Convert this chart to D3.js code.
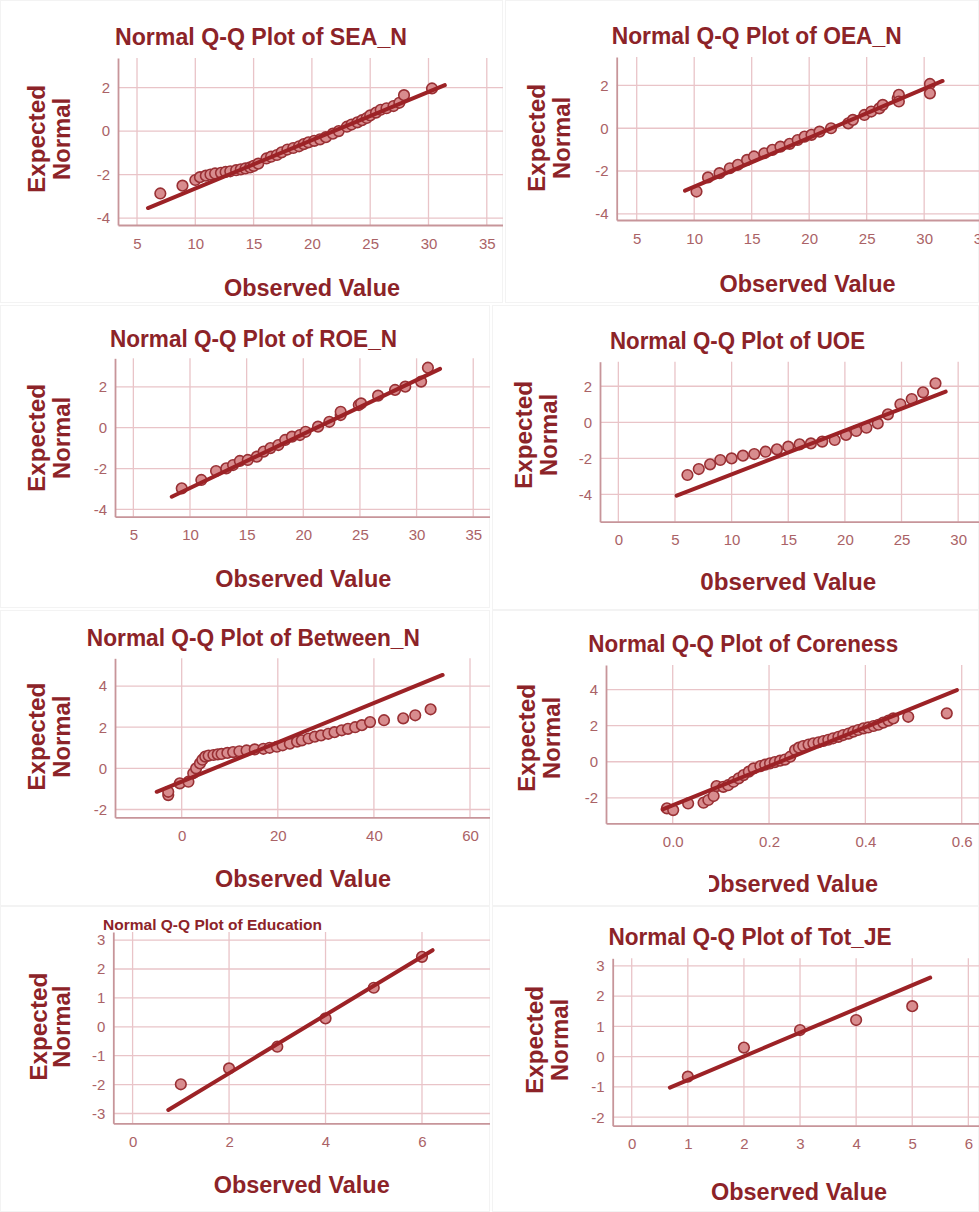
<!DOCTYPE html>
<html>
<head>
<meta charset="utf-8">
<script src="https://cdn.jsdelivr.net/npm/d3@7"></script>
<style>
  body { margin: 0; background: #fff; }
  svg text { font-family: "Liberation Sans", Arial, sans-serif; }
</style>
</head>
<body>
<div id="chart"></div>
<script>
var seaObs = [7.0, 8.9, 10.0, 10.4, 10.9, 11.3, 11.7, 12.2, 12.6, 13.0, 13.5, 13.9, 14.3, 14.7, 15.0, 15.4, 16.1, 16.5, 17.0, 17.4, 17.9, 18.4, 18.9, 19.3, 19.7, 20.2, 20.7, 21.2, 21.8, 22.3, 23.0, 23.4, 23.9, 24.3, 24.7, 25.0, 25.5, 25.9, 26.4, 27.0, 27.5, 27.9, 30.3];
var seaExp = [-2.87, -2.51, -2.25, -2.12, -2.05, -2.0, -1.95, -1.92, -1.88, -1.85, -1.8, -1.76, -1.72, -1.67, -1.6, -1.5, -1.26, -1.18, -1.1, -0.98, -0.85, -0.78, -0.7, -0.6, -0.52, -0.45, -0.38, -0.28, -0.12, 0.0, 0.2, 0.3, 0.4, 0.5, 0.6, 0.72, 0.85, 0.98, 1.05, 1.15, 1.3, 1.65, 1.96];
var seaLineX = [5.94, 31.4], seaLineY = [-3.54, 2.11];

var oeaObs = [10.2, 11.2, 12.2, 13.1, 13.8, 14.6, 15.2, 16.1, 16.8, 17.5, 18.3, 19.0, 19.6, 20.2, 20.9, 21.9, 23.4, 23.8, 24.8, 25.4, 26.1, 26.4, 27.7, 27.8, 27.8, 30.5, 30.5];
var oeaExp = [-2.96, -2.3, -2.1, -1.87, -1.71, -1.48, -1.32, -1.17, -1.01, -0.86, -0.73, -0.55, -0.39, -0.31, -0.16, 0.0, 0.23, 0.39, 0.62, 0.78, 0.93, 1.09, 1.4, 1.56, 1.25, 2.07, 1.63];
var oeaLineX = [9.2, 31.6], oeaLineY = [-2.92, 2.21];

var roeObs = [9.27, 11.0, 12.3, 13.2, 13.8, 14.4, 15.1, 15.9, 16.5, 17.1, 17.8, 18.4, 19.0, 19.7, 20.2, 21.3, 22.3, 23.3, 23.3, 24.9, 25.1, 26.6, 28.1, 29.0, 30.4, 31.0];
var roeExp = [-2.97, -2.56, -2.12, -1.99, -1.83, -1.63, -1.58, -1.42, -1.17, -1.0, -0.85, -0.6, -0.44, -0.36, -0.2, 0.05, 0.29, 0.62, 0.78, 1.11, 1.19, 1.57, 1.85, 2.01, 2.26, 2.94];
var roeLineX = [8.39, 32.07], roeLineY = [-3.38, 2.88];

var uoeObs = [6.1, 7.1, 8.1, 9.0, 10.0, 11.0, 12.0, 13.0, 14.0, 15.0, 16.0, 17.0, 18.0, 19.1, 20.1, 21.0, 21.9, 22.9, 23.8, 24.9, 25.9, 26.9, 28.0];
var uoeExp = [-2.92, -2.59, -2.33, -2.09, -2.0, -1.85, -1.76, -1.63, -1.5, -1.35, -1.22, -1.17, -1.07, -0.98, -0.7, -0.48, -0.3, -0.06, 0.44, 1.0, 1.29, 1.66, 2.16];
var uoeLineX = [5.15, 28.9], uoeLineY = [-4.07, 1.7];

var betObs = [-2.8, -2.8, -0.4, 1.4, 2.4, 3.0, 3.8, 4.3, 4.9, 5.6, 6.6, 7.5, 8.3, 9.5, 10.7, 12.0, 13.5, 15.2, 17.0, 18.3, 19.8, 21.0, 22.5, 24.0, 25.0, 26.4, 27.7, 29.0, 30.5, 31.8, 33.3, 34.6, 36.1, 37.5, 39.2, 42.1, 46.1, 48.6, 51.8];
var betExp = [-1.3, -1.14, -0.73, -0.65, -0.24, 0.0, 0.24, 0.42, 0.57, 0.62, 0.65, 0.68, 0.7, 0.75, 0.79, 0.83, 0.87, 0.92, 0.95, 1.0, 1.05, 1.12, 1.2, 1.3, 1.36, 1.45, 1.54, 1.6, 1.68, 1.76, 1.85, 1.92, 2.0, 2.1, 2.25, 2.34, 2.43, 2.58, 2.87];
var betLineX = [-5.2, 54.3], betLineY = [-1.14, 4.54];

var corObs = [-0.012, 0.001, 0.032, 0.064, 0.074, 0.085, 0.091, 0.105, 0.115, 0.126, 0.137, 0.147, 0.158, 0.168, 0.182, 0.192, 0.202, 0.212, 0.223, 0.233, 0.244, 0.254, 0.262, 0.271, 0.282, 0.292, 0.303, 0.313, 0.323, 0.333, 0.344, 0.354, 0.365, 0.375, 0.385, 0.396, 0.406, 0.417, 0.427, 0.437, 0.448, 0.458, 0.489, 0.569];
var corExp = [-2.58, -2.68, -2.31, -2.27, -2.12, -1.9, -1.35, -1.39, -1.3, -1.11, -0.92, -0.74, -0.55, -0.37, -0.24, -0.16, -0.09, -0.02, 0.06, 0.12, 0.28, 0.65, 0.78, 0.87, 0.95, 1.02, 1.08, 1.15, 1.22, 1.3, 1.38, 1.48, 1.56, 1.67, 1.76, 1.85, 1.9, 1.98, 2.05, 2.17, 2.28, 2.4, 2.49, 2.68];
var corLineX = [-0.021, 0.59], corLineY = [-2.64, 3.97];

var eduObs = [1, 2, 3, 4, 5, 6];
var eduExp = [-1.99, -1.44, -0.69, 0.29, 1.35, 2.42];
var eduLineX = [0.74, 6.22], eduLineY = [-2.88, 2.65];

var jeObs = [1, 2, 3, 4, 5];
var jeExp = [-0.66, 0.3, 0.88, 1.21, 1.67];
var jeLineX = [0.68, 5.32], jeLineY = [-1.02, 2.61];

// tick labels
var xTicks5to35 = [5, 10, 15, 20, 25, 30, 35];
var xTicks0to30 = [0, 5, 10, 15, 20, 25, 30];
var xTicksBet = [0, 20, 40, 60];
var xTicksCor = [0.0, 0.2, 0.4, 0.6];
var xTicksEdu = [0, 2, 4, 6];
var xTicksJe = [0, 1, 2, 3, 4, 5, 6];
var yTicksA = [-4, -2, 0, 2];
var yTicksB = [-2, 0, 2, 4];
var yTicksEdu = [-3, -2, -1, 0, 1, 2, 3];
var yTicksJe = [-2, -1, 0, 1, 2, 3];

var panels = [
  {title: "Normal Q-Q Plot of SEA_N", xlab: "Observed Value", obs: seaObs, exp: seaExp, lx: seaLineX, ly: seaLineY, xt: xTicks5to35, yt: yTicksA},
  {title: "Normal Q-Q Plot of OEA_N", xlab: "Observed Value", obs: oeaObs, exp: oeaExp, lx: oeaLineX, ly: oeaLineY, xt: xTicks5to35, yt: yTicksA},
  {title: "Normal Q-Q Plot of ROE_N", xlab: "Observed Value", obs: roeObs, exp: roeExp, lx: roeLineX, ly: roeLineY, xt: xTicks5to35, yt: yTicksA},
  {title: "Normal Q-Q Plot of UOE", xlab: "0bserved Value", obs: uoeObs, exp: uoeExp, lx: uoeLineX, ly: uoeLineY, xt: xTicks0to30, yt: yTicksA},
  {title: "Normal Q-Q Plot of Between_N", xlab: "Observed Value", obs: betObs, exp: betExp, lx: betLineX, ly: betLineY, xt: xTicksBet, yt: yTicksB},
  {title: "Normal Q-Q Plot of Coreness", xlab: "Observed Value", obs: corObs, exp: corExp, lx: corLineX, ly: corLineY, xt: xTicksCor, yt: yTicksB, xfmt: d3.format(".1f")},
  {title: "Normal Q-Q Plot of Education", xlab: "Observed Value", obs: eduObs, exp: eduExp, lx: eduLineX, ly: eduLineY, xt: xTicksEdu, yt: yTicksEdu},
  {title: "Normal Q-Q Plot of Tot_JE", xlab: "Observed Value", obs: jeObs, exp: jeExp, lx: jeLineX, ly: jeLineY, xt: xTicksJe, yt: yTicksJe}
];

// layout of each pasted-in panel (pixels) and the value range it shows
var layouts = [
  {box: [0, 0, 503, 303], left: 118, right: 503, top: 58, bottom: 225, xd: [3.37, 36.39], yd: [-4.32, 3.36], tx: 261, ty: 45, tw: 292, ts: 23, yl: [45, 70], ylc: 139, xlx: 312, xly: 296},
  {box: [505, 0, 979, 303], left: 616.7, right: 995, top: 57, bottom: 220, xd: [3.26, 36.16], yd: [-4.29, 3.33], tx: 756.7, ty: 44.3, tw: 290, ts: 23, yl: [545, 570], ylc: 138, xlx: 807.5, xly: 291.7},
  {box: [0, 305, 490, 608], left: 115, right: 490, top: 358.3, bottom: 516.7, xd: [3.38, 36.48], yd: [-4.36, 3.40], tx: 253.5, ty: 347.3, tw: 287, ts: 23, yl: [45, 70], ylc: 438, xlx: 303.3, xly: 586.7},
  {box: [492, 305, 979, 610], left: 600, right: 979, top: 361.7, bottom: 521.7, xd: [-1.62, 31.84], yd: [-5.51, 3.36], tx: 737.5, ty: 349.3, tw: 255, ts: 23, yl: [532, 557], ylc: 435, xlx: 788.3, xly: 590},
  {box: [0, 610, 490, 906], left: 115, right: 490, top: 658.3, bottom: 817.3, xd: [-13.88, 64.16], yd: [-2.38, 5.35], tx: 253.3, ty: 646, tw: 333, ts: 23, yl: [45, 70], ylc: 736.7, xlx: 303, xly: 886.7},
  {box: [492, 610, 979, 906], left: 606, right: 979, top: 665, bottom: 823.3, xd: [-0.1385, 0.6359], yd: [-3.41, 5.36], tx: 743.3, ty: 652.3, tw: 310, ts: 23, yl: [535, 560], ylc: 738, xlx: 790, xly: 891.7, clipO: true},
  {box: [0, 906, 490, 1212], left: 113.3, right: 490, top: 932, bottom: 1123.3, xd: [-0.40, 7.41], yd: [-3.34, 3.28], tx: 212.5, ty: 930, tw: 219, ts: 15.5, yl: [47, 70], ylc: 1026.7, xlx: 301.7, xly: 1193.3},
  {box: [492, 906, 979, 1212], left: 612.7, right: 979, top: 958.3, bottom: 1125.7, xd: [-0.339, 6.19], yd: [-2.28, 3.25], tx: 750, ty: 945, tw: 283, ts: 23, yl: [543, 568], ylc: 1040, xlx: 799, xly: 1200}
];

var titleColor = "#8c2328";
var tickColor = "#aa6266";
var gridColor = "#e9c4c8";
var axisColor = "#c7959a";
var lineColor = "#9c2226";
var pointFill = "#d88c8e";
var pointStroke = "#993034";

var svg = d3.select("#chart")
  .append("svg")
  .attr("width", 979)
  .attr("height", 1212);

svg.append("rect").attr("width", 979).attr("height", 1212).attr("fill", "#fff");

panels.forEach(function(p, i) {
  var L = layouts[i];

  svg.append("clipPath").attr("id", "clip" + i)
    .append("rect")
    .attr("x", L.box[0]).attr("y", L.box[1])
    .attr("width", L.box[2] - L.box[0]).attr("height", L.box[3] - L.box[1]);

  // faint frame of the pasted screenshot
  svg.append("rect")
    .attr("x", L.box[0] + 0.5).attr("y", L.box[1] + 0.5)
    .attr("width", L.box[2] - L.box[0] - 1).attr("height", L.box[3] - L.box[1] - 1)
    .attr("fill", "none").attr("stroke", "#f3f3f3");

  var g = svg.append("g").attr("clip-path", "url(#clip" + i + ")");

  var x = d3.scaleLinear().domain(L.xd).range([L.left, L.right]);
  var y = d3.scaleLinear().domain(L.yd).range([L.bottom, L.top]);
  var plain = function(d) { return String(d); };

  // grid
  g.selectAll(".vgrid").data(p.xt).enter().append("line")
    .attr("x1", d => x(d)).attr("x2", d => x(d))
    .attr("y1", L.top).attr("y2", L.bottom)
    .attr("stroke", gridColor).attr("stroke-width", 1.3);

  g.selectAll(".hgrid").data(p.yt).enter().append("line")
    .attr("x1", L.left).attr("x2", L.right)
    .attr("y1", d => y(d)).attr("y2", d => y(d))
    .attr("stroke", gridColor).attr("stroke-width", 1.3);

  // axes
  var xAxis = g.append("g")
    .attr("transform", `translate(0, ${L.bottom})`)
    .call(d3.axisBottom(x).tickValues(p.xt).tickSize(0).tickPadding(13).tickFormat(p.xfmt || plain));
  var yAxis = g.append("g")
    .attr("transform", `translate(${L.left}, 0)`)
    .call(d3.axisLeft(y).tickValues(p.yt).tickSize(0).tickPadding(8).tickFormat(plain));

  [xAxis, yAxis].forEach(function(ax) {
    ax.select(".domain").attr("stroke", axisColor).attr("stroke-width", 1.8);
    ax.selectAll("text")
      .attr("fill", tickColor)
      .style("font-size", "15px");
  });

  // points then reference line
  var pts = p.obs.map(function(d, k) { return {x: d, y: p.exp[k]}; });
  g.selectAll(".pt").data(pts).enter().append("circle")
    .attr("cx", d => x(d.x))
    .attr("cy", d => y(d.y))
    .attr("r", 5.3)
    .attr("fill", pointFill)
    .attr("stroke", pointStroke)
    .attr("stroke-width", 1.6);

  g.append("line")
    .attr("x1", x(p.lx[0])).attr("y1", y(p.ly[0]))
    .attr("x2", x(p.lx[1])).attr("y2", y(p.ly[1]))
    .attr("stroke", lineColor)
    .attr("stroke-width", 4)
    .attr("stroke-linecap", "round");

  // titles and labels
  g.append("text")
    .attr("x", L.tx).attr("y", L.ty)
    .attr("text-anchor", "middle")
    .attr("textLength", L.tw).attr("lengthAdjust", "spacingAndGlyphs")
    .style("font-size", L.ts + "px").style("font-weight", "bold")
    .attr("fill", titleColor)
    .text(p.title);

  g.append("text")
    .attr("x", L.xlx).attr("y", L.xly)
    .attr("text-anchor", "middle")
    .attr("textLength", 176).attr("lengthAdjust", "spacingAndGlyphs")
    .style("font-size", "23px").style("font-weight", "bold")
    .attr("fill", titleColor)
    .text(p.xlab);

  if (L.clipO) {
    g.append("rect")
      .attr("x", L.xlx - 92).attr("y", L.xly - 22)
      .attr("width", 11).attr("height", 28)
      .attr("fill", "#fff");
  }

  [["Expected", 108], ["Normal", 82]].forEach(function(w, k) {
    g.append("text")
      .attr("transform", `translate(${L.yl[k]}, ${L.ylc}) rotate(-90)`)
      .attr("text-anchor", "middle")
      .attr("textLength", w[1]).attr("lengthAdjust", "spacingAndGlyphs")
      .style("font-size", "24px").style("font-weight", "bold")
      .attr("fill", titleColor)
      .text(w[0]);
  });
});
</script>
</body>
</html>
